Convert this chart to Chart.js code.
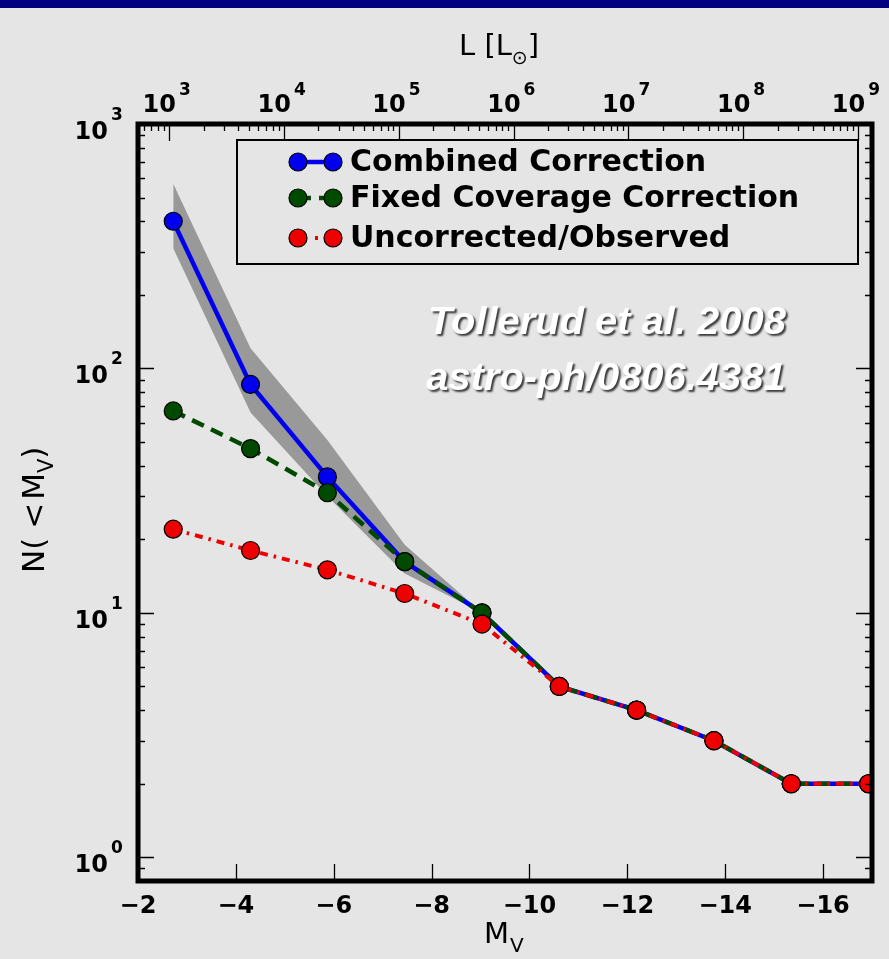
<!DOCTYPE html>
<html>
<head>
<meta charset="utf-8">
<script src="https://cdn.jsdelivr.net/npm/chart.js@4/dist/chart.umd.min.js"></script>
<style>
  body { margin: 0; background: #e5e5e5; }
  #wrap { width: 889px; height: 959px; position: relative; }
</style>
</head>
<body>
<div id="wrap"><canvas id="lfChart"></canvas></div>
<script>
// absolute magnitude bins (M_V) and cumulative counts N(<M_V)
const magBins = [-2.72, -4.30, -5.87, -7.45, -9.03, -10.61, -12.19, -13.77, -15.35, -16.93];
const combined = [400, 86, 36, 16.2, 10, 5, 4, 3, 2, 2];
const fixedCoverage = [67, 47, 31, 16.2, 10, 5, 4, 3, 2, 2];
const observed = [22, 18, 15, 12, 9, 5, 4, 3, 2, 2];
// shaded spread of the combined correction (first five bins)
const bandUpper = [570, 121, 51, 19, 10];
const bandLower = [310, 66, 30, 14.5, 10];

const xTicks = [-2, -4, -6, -8, -10, -12, -14, -16];
const yDecades = [0, 1, 2, 3];
const lumDecades = [3, 4, 5, 6, 7, 8, 9];

const seriesNames = ['Combined Correction', 'Fixed Coverage Correction', 'Uncorrected/Observed'];
const BLUE = '#0000ee', GREEN = '#004a00', RED = '#ee0000';
const FONT = '"DejaVu Sans"';

const pts = (ys) => ys.map((y, i) => ({ x: magBins[i], y: y }));

function drawSupLabel(ctx, base, sup, xRight, yBase, supDy) {
    ctx.font = 'bold 24px ' + FONT;
    ctx.textAlign = 'right';
    ctx.fillText(base, xRight, yBase);
    ctx.font = 'bold 17px ' + FONT;
    ctx.textAlign = 'left';
    ctx.fillText(sup, xRight + 3, yBase + supDy);
}

const decor = {
    id: 'decor',
    beforeDraw(chart) {
        const ctx = chart.ctx;
        ctx.save();
        ctx.fillStyle = '#e5e5e5';
        ctx.fillRect(0, 0, chart.width, chart.height);
        ctx.fillStyle = '#000080';
        ctx.fillRect(0, 0, chart.width, 8);
        ctx.restore();
    },
    afterDatasetsDraw(chart) {
        const { ctx, chartArea: a, scales } = chart;
        const y = scales.y, x = scales.x, x2 = scales.x2;
        ctx.save();
        ctx.strokeStyle = '#000';
        ctx.fillStyle = '#000';
        ctx.lineWidth = 1.3;

        // y ticks, both sides
        ctx.beginPath();
        [0.1, 1, 10, 100].forEach(d => {
            for (let k = 1; k <= 9; k++) {
                const v = k * d;
                if (v < y.min || v > y.max) continue;
                const py = Math.round(y.getPixelForValue(v)) + 0.5;
                const len = k === 1 ? 16 : 7;
                ctx.moveTo(a.left, py); ctx.lineTo(a.left + len, py);
                ctx.moveTo(a.right, py); ctx.lineTo(a.right - len, py);
            }
        });
        // bottom ticks
        xTicks.forEach(v => {
            const px = Math.round(x.getPixelForValue(v)) + 0.5;
            ctx.moveTo(px, a.bottom); ctx.lineTo(px, a.bottom - 17);
        });
        // top luminosity ticks
        for (let n = 2; n <= 9; n++) {
            for (let k = 1; k <= 9; k++) {
                const v = n + Math.log10(k);
                if (v < x2.min || v > x2.max) continue;
                const px = Math.round(x2.getPixelForValue(v)) + 0.5;
                ctx.moveTo(px, a.top); ctx.lineTo(px, a.top + (k === 1 ? 17 : 7));
            }
        }
        ctx.stroke();

        // frame
        ctx.lineWidth = 5;
        ctx.strokeRect(a.left, a.top, a.right - a.left, a.bottom - a.top);

        // y labels
        ctx.textBaseline = 'alphabetic';
        yDecades.forEach(e => {
            const py = y.getPixelForValue(Math.pow(10, e));
            drawSupLabel(ctx, '10', String(e), 108, py + 15, -19);
        });
        // top labels
        lumDecades.forEach(e => {
            const px = x2.getPixelForValue(e);
            drawSupLabel(ctx, '10', String(e), px + 7, 112, -17);
        });

        // axis titles
        ctx.font = '29px ' + FONT;
        ctx.textAlign = 'left';
        let tx = 459;
        ctx.fillText('L [L', tx, 55);
        tx += ctx.measureText('L [L').width;
        ctx.font = '19px ' + FONT;
        ctx.fillText('\u2299', tx, 64);
        tx += ctx.measureText('\u2299').width;
        ctx.font = '29px ' + FONT;
        ctx.fillText(']', tx, 55);

        ctx.fillText('M', 484, 943);
        ctx.font = '20px ' + FONT;
        ctx.fillText('V', 510, 952);

        ctx.save();
        ctx.translate(44, 573);
        ctx.rotate(-Math.PI / 2);
        let ty = 0;
        [['N', 0], ['(', 9], ['<', 3], ['M', 0]].forEach(([s, gap]) => {
            ctx.font = '31px ' + FONT;
            ctx.fillText(s, ty, 0);
            ty += ctx.measureText(s).width + gap;
        });
        ctx.font = '21px ' + FONT;
        ctx.fillText('V', ty, 9);
        ty += ctx.measureText('V').width;
        ctx.font = '31px ' + FONT;
        ctx.fillText(')', ty, 0);
        ctx.restore();

        // legend
        ctx.lineWidth = 2;
        ctx.strokeRect(237, 140, 621, 124);
        const rows = [
            { c: BLUE, dash: [], w: 4.5, yy: 162 },
            { c: GREEN, dash: [13, 8], w: 4.5, yy: 198 },
            { c: RED, dash: [0, 17, 3, 30], w: 4, yy: 238 }
        ];
        rows.forEach((r, i) => {
            ctx.save();
            ctx.strokeStyle = r.c;
            ctx.lineWidth = r.w;
            ctx.setLineDash(r.dash);
            ctx.beginPath();
            ctx.moveTo(298, r.yy); ctx.lineTo(333, r.yy);
            ctx.stroke();
            ctx.setLineDash([]);
            ctx.lineWidth = 1.2;
            ctx.strokeStyle = '#000';
            ctx.fillStyle = r.c;
            [298, 333].forEach(cx => {
                ctx.beginPath();
                ctx.arc(cx, r.yy, 9, 0, Math.PI * 2);
                ctx.fill(); ctx.stroke();
            });
            ctx.restore();
            ctx.font = 'bold 30px ' + FONT;
            ctx.textAlign = 'left';
            ctx.textBaseline = 'middle';
            ctx.fillText(seriesNames[i], 350, r.yy + 1);
        });

        // citation
        ctx.textBaseline = 'alphabetic';
        ctx.textAlign = 'center';
        ctx.font = 'italic bold 38px "Liberation Sans"';
        ctx.shadowColor = 'rgba(0,0,0,0.75)';
        ctx.shadowOffsetX = 2;
        ctx.shadowOffsetY = 2;
        ctx.shadowBlur = 2;
        ctx.fillStyle = '#ffffff';
        ctx.save();
        ctx.translate(607, 0);
        ctx.scale(1.05, 1);
        ctx.fillText('Tollerud et al. 2008', 0, 334);
        ctx.fillText('astro-ph/0806.4381', -1, 390);
        ctx.restore();
        ctx.restore();
    }
};

const pointStyle = (c) => ({
    borderColor: c,
    pointBackgroundColor: c,
    pointBorderColor: '#000',
    pointBorderWidth: 1.2,
    pointRadius: 9,
    pointHoverRadius: 9
});

new Chart(document.getElementById('lfChart'), {
    type: 'line',
    data: {
        datasets: [
            Object.assign({ label: seriesNames[2], data: pts(observed), borderWidth: 4,
                borderDash: [8, 6, 2.5, 6], order: 0 }, pointStyle(RED)),
            Object.assign({ label: seriesNames[1], data: pts(fixedCoverage), borderWidth: 4.5,
                borderDash: [13, 8], order: 1 }, pointStyle(GREEN)),
            Object.assign({ label: seriesNames[0], data: pts(combined), borderWidth: 4.5,
                order: 2 }, pointStyle(BLUE)),
            { label: 'upper', data: pts(bandUpper), borderWidth: 0, pointRadius: 0,
              fill: '+1', backgroundColor: '#999999', order: 3 },
            { label: 'lower', data: pts(bandLower), borderWidth: 0, pointRadius: 0,
              fill: false, order: 4 }
        ]
    },
    options: {
        responsive: true,
        maintainAspectRatio: false,
        animation: false,
        layout: { padding: { right: 17 } },
        plugins: { legend: { display: false }, tooltip: { enabled: false } },
        elements: { line: { tension: 0 } },
        scales: {
            x: {
                type: 'linear', position: 'bottom', min: -17, max: -2, reverse: true,
                grid: { display: false }, border: { display: false },
                ticks: {
                    color: '#000', padding: 3,
                    font: { family: 'DejaVu Sans', size: 24, weight: 'bold' },
                    callback: v => '\u2212' + Math.abs(v)
                },
                afterBuildTicks: s => { s.ticks = xTicks.map(v => ({ value: v })); },
                afterFit: s => { s.height = 78; }
            },
            x2: {
                type: 'linear', position: 'top', min: 2.73, max: 9.12,
                grid: { display: false }, border: { display: false },
                ticks: { display: false },
                afterFit: s => { s.height = 124; }
            },
            y: {
                type: 'logarithmic', min: 0.8, max: 1000,
                grid: { display: false }, border: { display: false },
                ticks: { display: false },
                afterFit: s => { s.width = 138; }
            }
        }
    },
    plugins: [decor]
});
</script>
</body>
</html>
